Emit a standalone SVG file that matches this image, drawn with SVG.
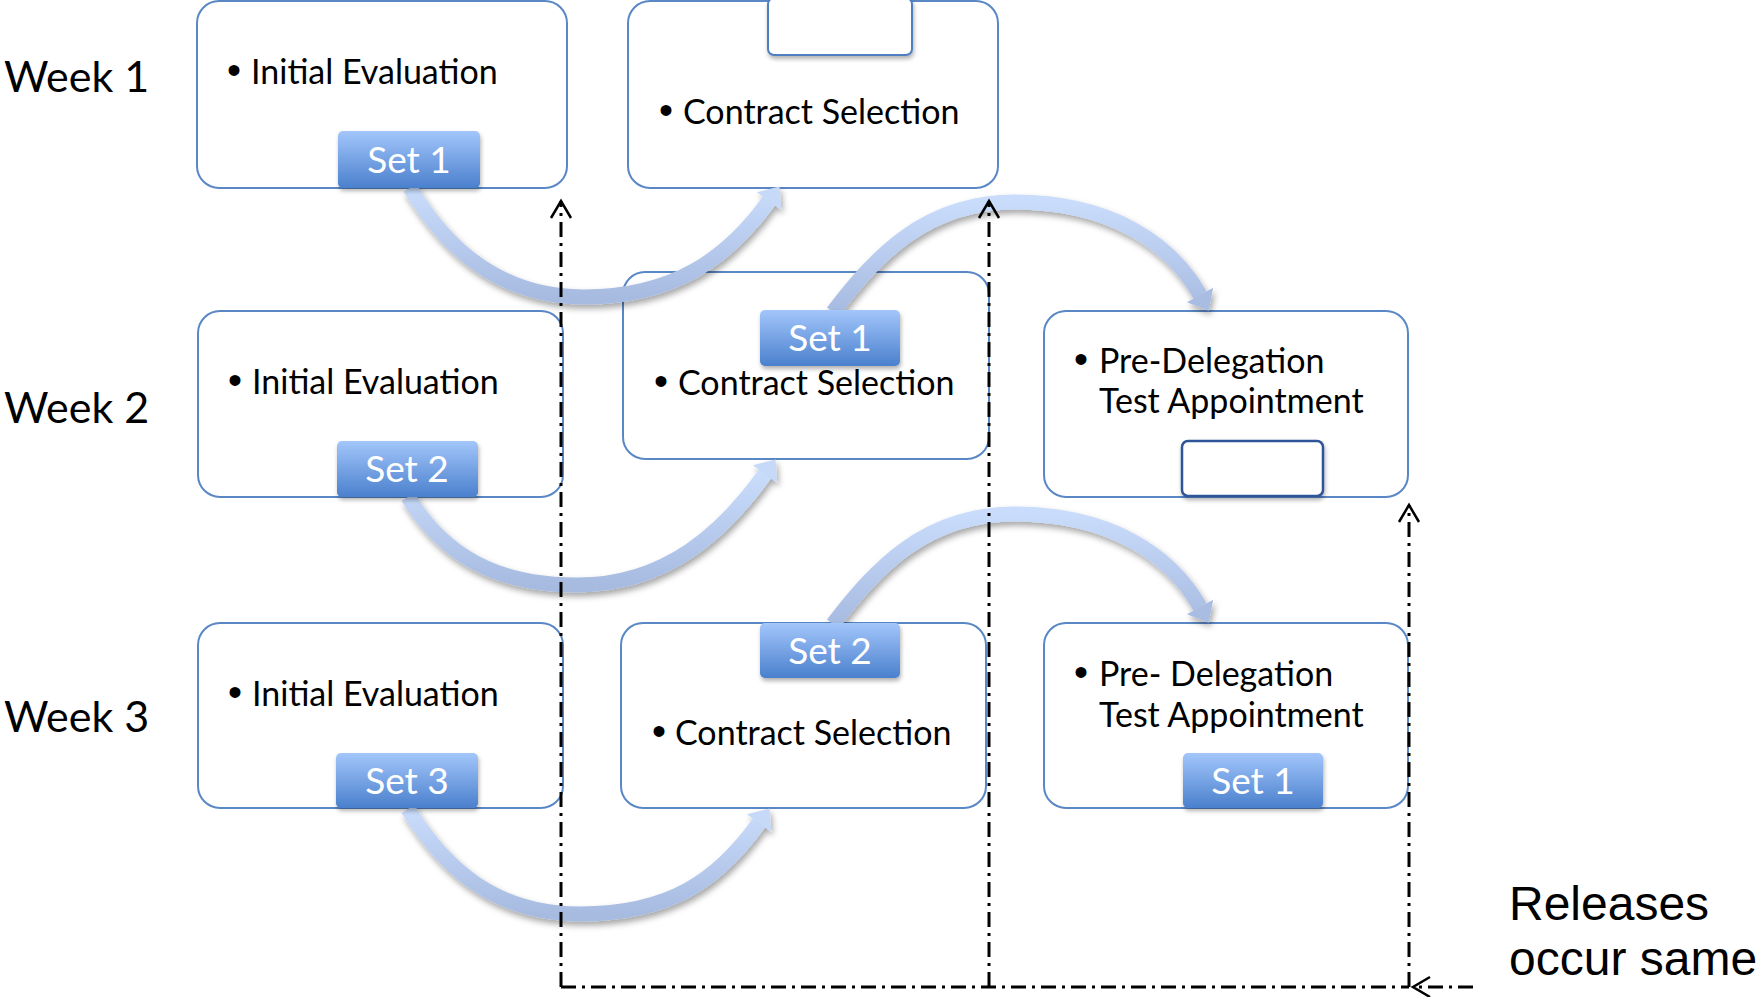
<svg xmlns="http://www.w3.org/2000/svg" width="1758" height="997" viewBox="0 0 1758 997">
<style>
.box{fill:#fff;stroke:#5a87c5;stroke-width:2}
.txt{font-family:Lato,"Open Sans",sans-serif;font-size:34px;fill:#000}
.bul{font-family:"Liberation Sans",Arial,sans-serif;font-size:40px;fill:#000}
.week{font-family:Lato,"Open Sans",sans-serif;font-size:43px;fill:#000}
.rel{font-family:"Liberation Sans",Arial,sans-serif;font-size:48px;fill:#000}
.btn{fill:url(#btnGrad);filter:url(#sh)}
.btnTxt{font-family:Lato,"Open Sans",sans-serif;font-size:37px;fill:#fff;text-anchor:middle}
.empty{fill:#fff;stroke:#4f7fc0;stroke-width:2;filter:url(#sh)}
.curve{fill:none;stroke:url(#curveGrad);stroke-width:15}
.dash{fill:none;stroke:#000;stroke-width:3;stroke-dasharray:15 6 3 6}
</style>
<defs>
<linearGradient id="btnGrad" x1="0" y1="0" x2="0" y2="1">
<stop offset="0" stop-color="#a3c6fb"/>
<stop offset="1" stop-color="#4a80cd"/>
</linearGradient>
<linearGradient id="curveGrad" x1="0" y1="0" x2="0" y2="1">
<stop offset="0" stop-color="#c9dcfb"/>
<stop offset="1" stop-color="#a7bbe1"/>
</linearGradient>
<filter id="sh" x="-20%" y="-20%" width="140%" height="160%">
<feDropShadow dx="1" dy="3" stdDeviation="2" flood-color="#000" flood-opacity="0.3"/>
</filter>
<filter id="csh" x="-10%" y="-20%" width="120%" height="150%">
<feDropShadow dx="2" dy="4" stdDeviation="3" flood-color="#000" flood-opacity="0.35"/>
</filter>
<marker id="headLight" markerUnits="userSpaceOnUse" markerWidth="20" markerHeight="32" refX="0" refY="16" orient="auto" overflow="visible">
<path d="M0,1 L18,16 L0,31 z" fill="#c6d9f9"/>
</marker>
<marker id="headDark" markerUnits="userSpaceOnUse" markerWidth="20" markerHeight="32" refX="0" refY="16" orient="auto" overflow="visible">
<path d="M0,1 L18,16 L0,31 z" fill="#a9bde3"/>
</marker>
<marker id="open" markerUnits="userSpaceOnUse" markerWidth="20" markerHeight="22" refX="0" refY="0" orient="auto" overflow="visible">
<path d="M-17,-10 L0,0 L-17,10" fill="none" stroke="#000" stroke-width="2.5"/>
</marker>
</defs>

<g id="labels">
<text class="week" x="4" y="92">Week 1</text>
<text class="week" x="4" y="423">Week 2</text>
<text class="week" x="4" y="732">Week 3</text>
<text class="rel" x="1509" y="920">Releases</text>
<text class="rel" x="1509" y="975">occur same</text>
</g>

<g id="w1-initial">
<rect class="box" x="197" y="1" width="370" height="187" rx="22"/>
<text class="bul" x="227" y="84">•</text>
<text class="txt" x="251" y="84">Initial Evaluation</text>
</g>
<g id="w1-contract">
<rect class="box" x="628" y="1" width="370" height="187" rx="22"/>
<text class="bul" x="659" y="124">•</text>
<text class="txt" x="683" y="124">Contract Selection</text>
</g>
<g id="w2-initial">
<rect class="box" x="198" y="311" width="365" height="186" rx="22"/>
<text class="bul" x="228" y="394">•</text>
<text class="txt" x="252" y="394">Initial Evaluation</text>
</g>
<g id="w2-contract">
<rect class="box" x="623" y="272" width="366" height="187" rx="22"/>
<text class="bul" x="654" y="395">•</text>
<text class="txt" x="678" y="395">Contract Selection</text>
</g>
<g id="w2-predelegation">
<rect class="box" x="1044" y="311" width="364" height="186" rx="22"/>
<text class="bul" x="1074" y="373">•</text>
<text class="txt" x="1099" y="373">Pre-Delegation</text>
<text class="txt" x="1099" y="413">Test Appointment</text>
</g>
<g id="w3-initial">
<rect class="box" x="198" y="623" width="365" height="185" rx="22"/>
<text class="bul" x="228" y="706">•</text>
<text class="txt" x="252" y="706">Initial Evaluation</text>
</g>
<g id="w3-contract">
<rect class="box" x="621" y="623" width="365" height="185" rx="22"/>
<text class="bul" x="652" y="745">•</text>
<text class="txt" x="675" y="745">Contract Selection</text>
</g>
<g id="w3-predelegation">
<rect class="box" x="1044" y="623" width="364" height="185" rx="22"/>
<text class="bul" x="1074" y="686">•</text>
<text class="txt" x="1099" y="686">Pre- Delegation</text>
<text class="txt" x="1099" y="727">Test Appointment</text>
</g>

<g id="connectors">
<g filter="url(#csh)">
<path class="curve" d="M410,188 C446,248 499,297 584,297 C674,297 728,258 769,201" marker-end="url(#headLight)"/>
<path class="curve" d="M408,497 C444,556 497,585 577,585 C667,585 724,531 765,474" marker-end="url(#headLight)"/>
<path class="curve" d="M408,809 C444,868 495,914 580,914 C670,914 718,880 759,823" marker-end="url(#headLight)"/>
<path class="curve" d="M833,312 C876,256 925,202 1015,202 C1110,202 1171,243 1200,295" marker-end="url(#headDark)"/>
<path class="curve" d="M833,624 C876,568 925,514 1015,514 C1110,514 1171,555 1200,607" marker-end="url(#headDark)"/>
</g>
<path class="dash" d="M561,987 L561,201" marker-end="url(#open)"/>
<path class="dash" d="M989,987 L989,201" marker-end="url(#open)"/>
<path class="dash" d="M1409,987 L1409,505" marker-end="url(#open)"/>
<path class="dash" d="M561,987 L1409,987"/>
<path class="dash" d="M1473,987 L1413,987" marker-end="url(#open)"/>
</g>

<g id="w1-set1">
<rect class="btn" x="338" y="131" width="142" height="57" rx="5"/>
<text class="btnTxt" x="409" y="173">Set 1</text>
</g>
<g id="w1-slot">
<rect class="empty" x="768" y="-2" width="144" height="57" rx="6"/>
</g>
<g id="w2-set2">
<rect class="btn" x="337" y="441" width="141" height="56" rx="5"/>
<text class="btnTxt" x="407" y="482">Set 2</text>
</g>
<g id="w2-set1">
<rect class="btn" x="760" y="310" width="140" height="56" rx="5"/>
<text class="btnTxt" x="830" y="351">Set 1</text>
</g>
<g id="w2-slot">
<rect class="empty" x="1182" y="441" width="141" height="55" rx="6" style="stroke:#2e5597;stroke-width:2.5"/>
</g>
<g id="w3-set3">
<rect class="btn" x="336" y="753" width="142" height="55" rx="5"/>
<text class="btnTxt" x="407" y="794">Set 3</text>
</g>
<g id="w3-set2">
<rect class="btn" x="760" y="623" width="140" height="55" rx="5"/>
<text class="btnTxt" x="830" y="664">Set 2</text>
</g>
<g id="w3-set1">
<rect class="btn" x="1183" y="753" width="140" height="55" rx="5"/>
<text class="btnTxt" x="1253" y="794">Set 1</text>
</g>
</svg>
